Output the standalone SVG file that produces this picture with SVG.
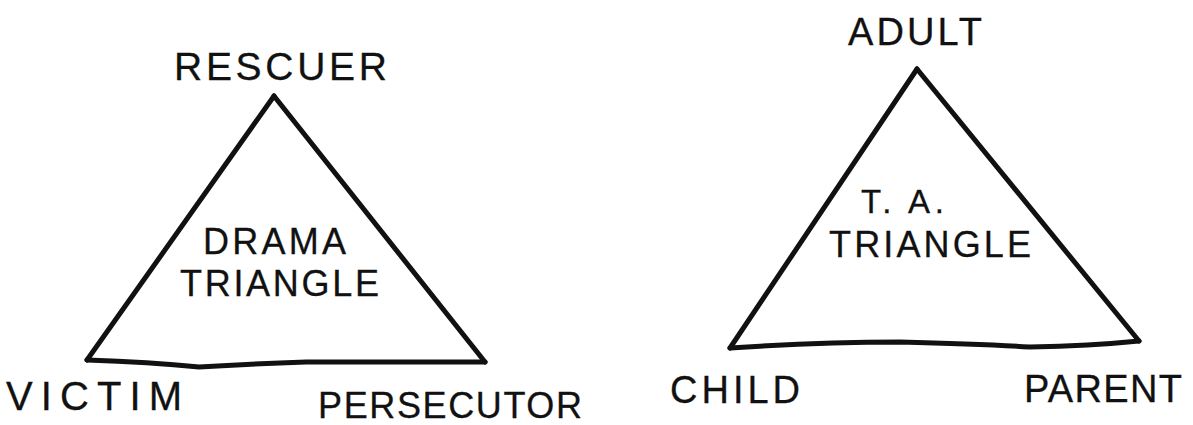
<svg xmlns="http://www.w3.org/2000/svg" width="1193" height="425" viewBox="0 0 1193 425">
<style>
.lbl{font-family:"Liberation Sans",Arial,sans-serif;font-size:38px;fill:#111;stroke:#111;stroke-width:0.3}
.edge{fill:none;stroke:#111;stroke-width:5;stroke-linejoin:round;stroke-linecap:round}
</style>
<rect width="1193" height="425" fill="#ffffff"/>
<g id="connectors">
<path class="edge" d="M274 96 L87 360"/>
<path class="edge" d="M274 96 L485 362"/>
<path class="edge" d="M87 360 Q150 362 199 367 Q250 364 306 362 L485 362"/>
<path class="edge" d="M917 69 L730 348"/>
<path class="edge" d="M917 69 L1139 341"/>
<path class="edge" d="M730 348 Q820 342 900 342 Q980 344 1030 347 Q1090 346 1139 341"/>
</g>
<g id="node-rescuer"><text class="lbl" x="174" y="80" textLength="213" lengthAdjust="spacing" style="font-size:39px">RESCUER</text></g>
<g id="node-drama-title"><text class="lbl" x="203" y="254" textLength="143" lengthAdjust="spacing" style="font-size:36px">DRAMA</text><text class="lbl" x="180" y="296" textLength="199" lengthAdjust="spacing" style="font-size:36px">TRIANGLE</text></g>
<g id="node-victim"><text class="lbl" x="6" y="410" textLength="176" lengthAdjust="spacing" style="font-size:40px">VICTIM</text></g>
<g id="node-persecutor"><text class="lbl" x="318" y="418" textLength="264" lengthAdjust="spacing" style="font-size:36px">PERSECUTOR</text></g>
<g id="node-adult"><text class="lbl" x="848" y="45" textLength="134" lengthAdjust="spacing" style="font-size:38px">ADULT</text></g>
<g id="node-ta-title"><text class="lbl" x="861" y="213" textLength="83" lengthAdjust="spacing" style="font-size:33px">T. A.</text><text class="lbl" x="829" y="257" textLength="202" lengthAdjust="spacing" style="font-size:36px">TRIANGLE</text></g>
<g id="node-child"><text class="lbl" x="670" y="403" textLength="130" lengthAdjust="spacing" style="font-size:38px">CHILD</text></g>
<g id="node-parent"><text class="lbl" x="1024" y="402" textLength="158" lengthAdjust="spacing" style="font-size:38px">PARENT</text></g>
</svg>
